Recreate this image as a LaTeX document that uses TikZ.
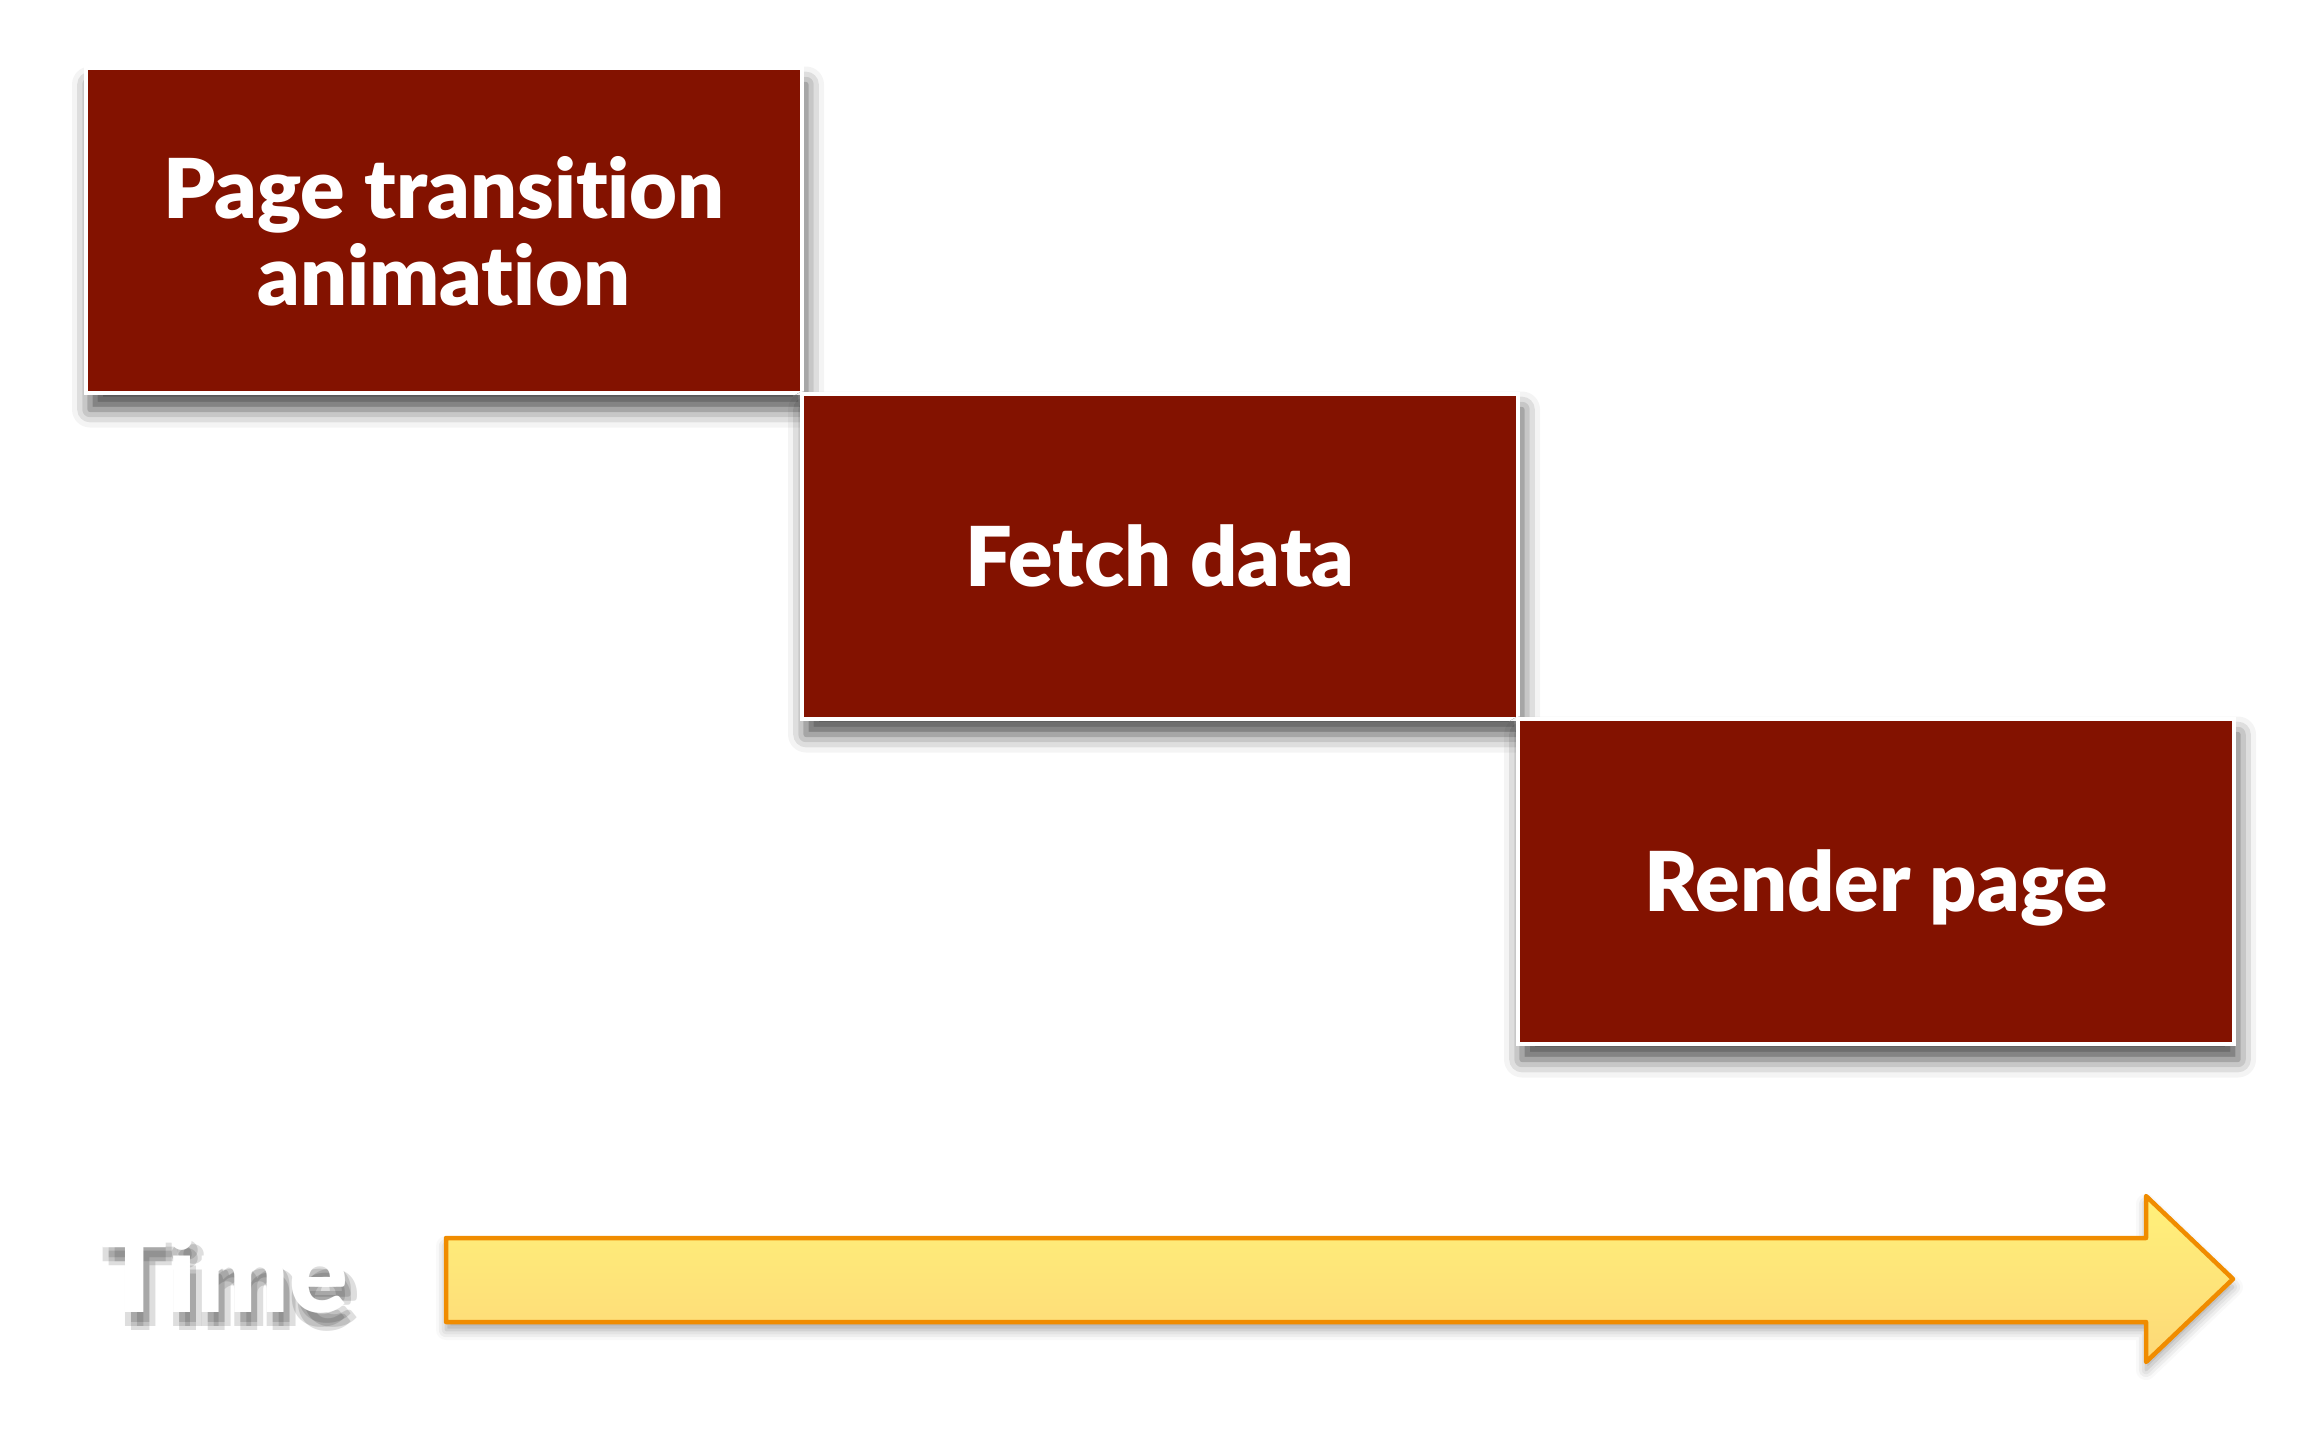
\documentclass[tikz,border=0pt]{standalone}
\usepackage{fontspec}
\setmainfont{Lato}[Ligatures=NoCommon, BoldFont={Lato Black}]
\usetikzlibrary{shadows.blur}
\definecolor{boxred}{RGB}{131,18,0}
\definecolor{arroworange}{RGB}{240,140,0}
\definecolor{arrowtop}{RGB}{255,241,122}
\definecolor{arrowbottom}{RGB}{253,216,120}
\tikzset{
  stage/.style={rectangle, fill=boxred, draw=white, line width=0.4mm,
    minimum width=71.6mm, minimum height=32.5mm, text=white, align=center,
    text depth=0pt, font=\fontsize{23.5}{24.5}\selectfont\bfseries,
    blur shadow={shadow xshift=0.4mm, shadow yshift=-1.6mm, shadow blur radius=1.8mm, shadow opacity=70}},
  timelabel/.style={font=\fontsize{31}{34}\selectfont\bfseries}
}
\begin{document}
\begin{tikzpicture}[x=0.1mm,y=-0.1mm]
\useasboundingbox (0,0) rectangle (2316,1454);

% the three stages
\node[stage] (transition) at (444,231) {Page transition\\animation};
\node[stage] (fetch) at (1160,556) {Fetch data};
\node[stage] (render) at (1876,881) {Render page};

% time axis
\draw[draw=arroworange, line width=0.45mm, line join=round,
  top color=arrowtop, bottom color=arrowbottom,
  blur shadow={shadow xshift=0mm, shadow yshift=-0.8mm, shadow blur radius=1mm, shadow opacity=35}]
  (446,1238) -- (2146,1238) -- (2146,1196) -- (2233,1279) -- (2146,1362) -- (2146,1322) -- (446,1322) -- cycle;

% label with soft shadow
\foreach \dx/\dy [count=\i] in {6/10,0/14,12/14,6/18}
  \node[timelabel, text=black, opacity=0.13] (timeshade\i) at (225+\dx,1272+\dy) {Time};
\node[timelabel, text=white] (time) at (225,1272) {Time};
\end{tikzpicture}
\end{document}
